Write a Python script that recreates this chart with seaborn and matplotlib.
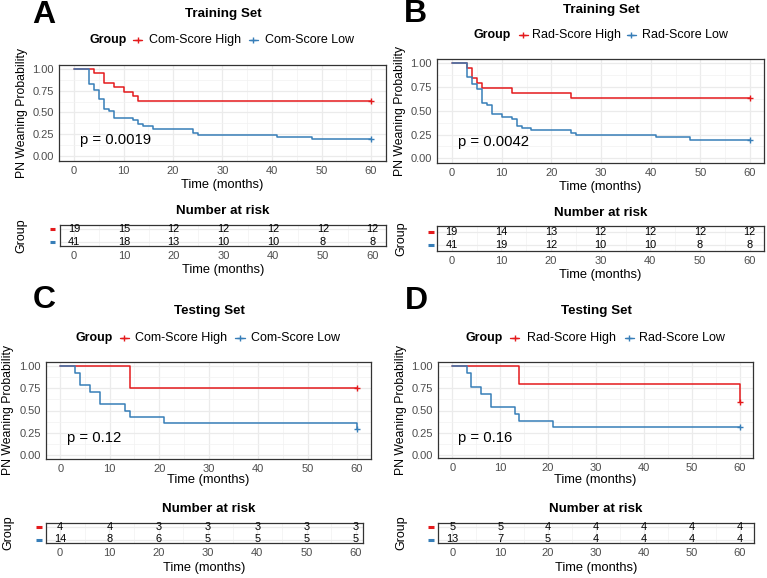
import matplotlib
matplotlib.use('Agg')
import matplotlib.pyplot as plt
from matplotlib.lines import Line2D
from matplotlib.ticker import MultipleLocator, FixedLocator
import seaborn as sns
import pandas as pd

sns.set_style('white')
plt.rcParams['font.family'] = ['Liberation Sans', 'DejaVu Sans']
plt.rcParams['text.color'] = 'black'
plt.rcParams['axes.labelcolor'] = 'black'

RED = '#E41A1C'
BLUE = '#377EB8'
GRID = '#EBEBEB'
TICKC = '#4D4D4D'
BORDER = '#333333'

# ---------------- data ----------------
a_high_t = [0, 4, 6, 8, 10, 12, 13, 60]
a_high_s = [1.0, 0.947, 0.842, 0.789, 0.737, 0.684, 0.632, 0.632]
a_low_t = [0, 3, 4, 5, 6, 7, 8, 12, 13, 14, 16, 24, 25, 41, 48, 60]
a_low_s = [1.0, 0.829, 0.756, 0.659, 0.537, 0.512, 0.439, 0.415, 0.366, 0.341,
           0.317, 0.268, 0.244, 0.220, 0.195, 0.195]

b_high_t = [0, 3, 4, 5, 6, 12, 24, 60]
b_high_s = [1.0, 0.947, 0.842, 0.789, 0.737, 0.684, 0.632, 0.632]
b_low_t = [0, 3, 4, 5, 6, 7, 8, 10, 12, 13, 14, 16, 24, 25, 41, 48, 60]
b_low_s = [1.0, 0.854, 0.780, 0.732, 0.585, 0.561, 0.463, 0.439, 0.415, 0.341,
           0.317, 0.293, 0.268, 0.244, 0.220, 0.195, 0.195]

c_high_t = [0, 14, 60]
c_high_s = [1.0, 0.75, 0.75]
c_low_t = [0, 3, 4, 6, 8, 13, 14, 21, 60]
c_low_s = [1.0, 0.929, 0.786, 0.714, 0.571, 0.5, 0.429, 0.357, 0.286]

d_high_t = [0, 14, 60]
d_high_s = [1.0, 0.8, 0.6]
d_low_t = [0, 3, 4, 6, 8, 13, 14, 21, 60]
d_low_s = [1.0, 0.923, 0.769, 0.692, 0.538, 0.462, 0.385, 0.308, 0.308]

risk_times = [0, 10, 20, 30, 40, 50, 60]
a_risk_high = [19, 15, 12, 12, 12, 12, 12]
a_risk_low = [41, 18, 13, 10, 10, 8, 8]
b_risk_high = [19, 14, 13, 12, 12, 12, 12]
b_risk_low = [41, 19, 12, 10, 10, 8, 8]
c_risk_high = [4, 4, 3, 3, 3, 3, 3]
c_risk_low = [14, 8, 6, 5, 5, 5, 5]
d_risk_high = [5, 5, 4, 4, 4, 4, 4]
d_risk_low = [13, 7, 5, 4, 4, 4, 4]

com_groups = ['Com-Score High', 'Com-Score Low']
rad_groups = ['Rad-Score High', 'Rad-Score Low']
pvals = ['p = 0.0019', 'p = 0.0042', 'p = 0.12', 'p = 0.16']
titles = ['Training Set', 'Training Set', 'Testing Set', 'Testing Set']
letters = ['A', 'B', 'C', 'D']

# ---------------- layout (pixels) ----------------
W, H = 767, 578
fig = plt.figure(figsize=(W / 100, H / 100), dpi=100)


def px_axes(l, t, r, b):
    return fig.add_axes([l / W, 1 - b / H, (r - l) / W, (b - t) / H])


def ftext(x, y, s, **kw):
    kw.setdefault('color', 'black')
    fig.text(x / W, 1 - y / H, s, **kw)


def fline(x0, x1, y, **kw):
    fig.add_artist(Line2D([x0 / W, x1 / W], [1 - y / H, 1 - y / H],
                          transform=fig.transFigure, **kw))


panels = [
    dict(curves=[(a_high_t, a_high_s), (a_low_t, a_low_s)], groups=com_groups,
         risk=(a_risk_high, a_risk_low),
         box=(59, 65, 386, 161), xp=(74, 371), yp=(68.7, 156.3),
         rbox=(60, 225, 386, 246), rxp=(74, 372.7), ryp=(229.3, 242.2),
         letter=(44, 15), title=(223, 14), leg_y=40,
         leg=(90, 137.7, 149, 253, 265), ylab=(21.7, 113), pval=(80, 140),
         xlab_y=185, rtitle=(222.5, 210.7), rxlab_y=270, rylab=(21, 235.5),
         dash=52.5),
    dict(curves=[(b_high_t, b_high_s), (b_low_t, b_low_s)], groups=rad_groups,
         risk=(b_risk_high, b_risk_low),
         box=(437, 59, 764, 163), xp=(452, 750), yp=(63.3, 158.3),
         rbox=(437, 226, 764, 250.7), rxp=(451.7, 749.7), ryp=(232, 245),
         letter=(415, 14), title=(601, 9.5), leg_y=34.7,
         leg=(474, 523.3, 532.3, 631.3, 641.7), ylab=(400, 111), pval=(458, 141.7),
         xlab_y=187.3, rtitle=(601, 212.7), rxlab_y=275, rylab=(401, 238.3),
         dash=430.7),
    dict(curves=[(c_high_t, c_high_s), (c_low_t, c_low_s)], groups=com_groups,
         risk=(c_risk_high, c_risk_low),
         box=(46, 362, 371, 458.5), xp=(60.3, 357), yp=(366.3, 454.7),
         rbox=(46, 522.7, 363, 543.3), rxp=(60, 356), ryp=(526.6, 539.5),
         letter=(44, 300), title=(209, 311), leg_y=337.7,
         leg=(76, 124, 135, 240, 250.7), ylab=(8.3, 410), pval=(66.7, 438.3),
         xlab_y=480, rtitle=(209, 509.3), rxlab_y=568.3, rylab=(8.3, 533),
         dash=39),
    dict(curves=[(d_high_t, d_high_s), (d_low_t, d_low_s)], groups=rad_groups,
         risk=(d_risk_high, d_risk_low),
         box=(438, 362, 753, 458), xp=(452.3, 739.7), yp=(366.3, 454.7),
         rbox=(438, 522.7, 754, 543.3), rxp=(452.3, 739.7), ryp=(526.6, 539.5),
         letter=(416, 301), title=(596, 311), leg_y=337.7,
         leg=(465.7, 514.7, 526.7, 629, 639), ylab=(400.7, 410), pval=(458, 438.3),
         xlab_y=480, rtitle=(596, 509.3), rxlab_y=568.3, rylab=(401, 533),
         dash=431.3),
]


def style_axes(ax):
    for sp in ax.spines.values():
        sp.set_visible(True)
        sp.set_color(BORDER)
        sp.set_linewidth(0.9)
    ax.tick_params(axis='both', which='major', length=2.2, width=0.8,
                   color=BORDER, labelcolor=TICKC, labelsize=8, pad=1.5)
    ax.tick_params(axis='both', which='minor', length=0)
    ax.set_facecolor('white')


for i, p in enumerate(panels):
    l, t, r, b = p['box']
    ax = px_axes(l, t, r, b)
    sx = (p['xp'][1] - p['xp'][0]) / 60.0
    ax.set_xlim((l - p['xp'][0]) / sx, (r - p['xp'][0]) / sx)
    sy = p['yp'][1] - p['yp'][0]
    ax.set_ylim((p['yp'][1] - b) / sy, (p['yp'][1] - t) / sy)
    ax.xaxis.set_major_locator(MultipleLocator(10))
    ax.xaxis.set_minor_locator(MultipleLocator(5))
    ax.yaxis.set_major_locator(FixedLocator([0, 0.25, 0.5, 0.75, 1.0]))
    ax.yaxis.set_minor_locator(FixedLocator([0.125, 0.375, 0.625, 0.875]))
    ax.set_yticklabels(['0.00', '0.25', '0.50', '0.75', '1.00'])
    ax.grid(True, which='major', color=GRID, lw=0.9)
    ax.grid(True, which='minor', color='#F2F2F2', lw=0.5)
    ax.set_axisbelow(True)
    style_axes(ax)

    for (tt, ss), col, g in zip(p['curves'], [RED, BLUE], p['groups']):
        df = pd.DataFrame({'t': tt, 's': ss})
        sns.lineplot(data=df, x='t', y='s', ax=ax, color=col, lw=1.1,
                     drawstyle='steps-post', estimator=None, sort=False,
                     legend=False)
        sns.scatterplot(x=[tt[-1]], y=[ss[-1]], ax=ax, marker='+', color=col,
                        s=22, linewidth=1.0, legend=False, zorder=5)
    ax.set_xlabel('')
    ax.set_ylabel('')

    # p-value
    px, py = p['pval']
    ax.text((px - p['xp'][0]) / sx, (p['yp'][1] - py) / sy, pvals[i],
            fontsize=10.7, ha='left', va='center', color='black')

    # texts
    ftext(*p['letter'], letters[i], fontsize=23, fontweight='bold',
          ha='center', va='center')
    ftext(*p['title'], titles[i], fontsize=9.6, fontweight='bold',
          ha='center', va='center')
    ftext(*p['ylab'], 'PN Weaning Probability', fontsize=8.8, rotation=90,
          ha='center', va='center')
    ftext((l + r) / 2, p['xlab_y'], 'Time (months)', fontsize=9.3,
          ha='center', va='center')

    # legend
    gx, rh, rtx, bh, btx = p['leg']
    ly = p['leg_y']
    ftext(gx, ly, 'Group', fontsize=8.9, fontweight='bold', ha='left',
          va='center')
    for hx, tx, col, g in [(rh, rtx, RED, p['groups'][0]),
                           (bh, btx, BLUE, p['groups'][1])]:
        fline(hx - 4.5, hx + 4.5, ly, color=col, lw=1.0)
        fig.add_artist(Line2D([hx / W], [1 - ly / H], transform=fig.transFigure,
                              marker='+', color=col, markersize=4.5, mew=1.0,
                              lw=0))
        ftext(tx, ly, g, fontsize=9, ha='left', va='center')

    # risk table
    rl, rt, rr, rb = p['rbox']
    rax = px_axes(rl, rt, rr, rb)
    rsx = (p['rxp'][1] - p['rxp'][0]) / 60.0
    rax.set_xlim((rl - p['rxp'][0]) / rsx, (rr - p['rxp'][0]) / rsx)
    red_px, blue_px = p['ryp']
    rs = blue_px - red_px
    rax.set_ylim(1 - (rb - blue_px) / rs, 2 + (red_px - rt) / rs)
    rax.xaxis.set_major_locator(MultipleLocator(10))
    rax.xaxis.set_minor_locator(MultipleLocator(5))
    rax.yaxis.set_major_locator(FixedLocator([1, 2]))
    rax.set_yticklabels([])
    rax.grid(True, which='major', color=GRID, lw=0.9)
    rax.grid(True, which='minor', axis='x', color='#F2F2F2', lw=0.5)
    rax.set_axisbelow(True)
    style_axes(rax)
    rax.tick_params(axis='y', length=0)
    high, low = p['risk']
    for tm, nh, nl in zip(risk_times, high, low):
        rax.text(tm, 2, str(nh), fontsize=7.9, ha='center', va='center',
                 color='black')
        rax.text(tm, 1, str(nl), fontsize=7.9, ha='center', va='center',
                 color='black')
    ftext(*p['rtitle'], 'Number at risk', fontsize=9.6, fontweight='bold',
          ha='center', va='center')
    ftext((rl + rr) / 2, p['rxlab_y'], 'Time (months)', fontsize=9.3,
          ha='center', va='center')
    ftext(*p['rylab'], 'Group', fontsize=9, rotation=90, ha='center',
          va='center')
    fline(p['dash'] - 3, p['dash'] + 3, red_px, color=RED, lw=2.2,
          solid_capstyle='butt')
    fline(p['dash'] - 3, p['dash'] + 3, blue_px, color=BLUE, lw=2.2,
          solid_capstyle='butt')

fig.savefig('out.png', dpi=100, facecolor='white')
